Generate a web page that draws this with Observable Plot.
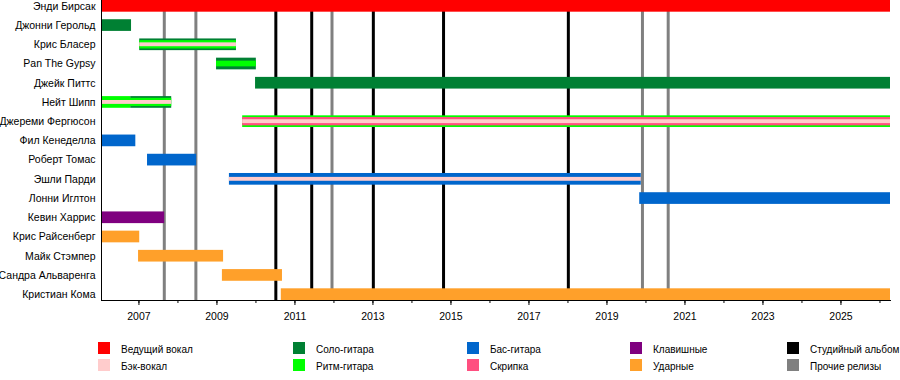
<!DOCTYPE html>
<html>
<head>
<meta charset="utf-8">
<script src="https://cdn.jsdelivr.net/npm/d3@7"></script>
<script src="https://cdn.jsdelivr.net/npm/@observablehq/plot@0.6"></script>
<style>
  html, body { margin: 0; padding: 0; background: #fff; }
  #wrap { width: 900px; font-family: "Liberation Sans", Arial, sans-serif; }
  #legend { position: relative; width: 900px; height: 50px; font-size: 10px; color: #000; }
  .item { position: absolute; height: 12px; line-height: 12px; white-space: nowrap; }
  .sw { position: absolute; left: 0; top: 0; width: 12px; height: 12px; }
  .lb { position: absolute; left: 23px; top: 2px; }
</style>
</head>
<body>
<div id="wrap"><div id="chart"></div><div id="legend"></div></div>
<script>
const START = 2006.04;
const END = 2026.27;

const members = [
  "Энди Бирсак", "Джонни Герольд", "Крис Бласер", "Pan The Gypsy", "Джейк Питтс",
  "Нейт Шипп", "Джереми Фергюсон", "Фил Кенеделла", "Роберт Томас", "Эшли Парди",
  "Лонни Иглтон", "Кевин Харрис", "Крис Райсенберг", "Майк Стэмпер",
  "Сандра Альваренга", "Кристиан Кома"
];

const roles = ["Ведущий вокал", "Бэк-вокал", "Соло-гитара", "Ритм-гитара",
               "Бас-гитара", "Скрипка", "Клавишные", "Ударные"];
const roleColors = ["#ff0000", "#ffcccc", "#008033", "#00ff00",
                    "#0066cc", "#ff4f80", "#7f007f", "#ffa02a"];

const releaseTypes = ["Студийный альбом", "Прочие релизы"];
const releaseColors = ["#000000", "#808080"];

// [member, role, start, end]
const mainBars = [
  ["Энди Бирсак", "Ведущий вокал", START, END],
  ["Джонни Герольд", "Соло-гитара", START, 2006.81],
  ["Крис Бласер", "Соло-гитара", 2007.02, 2009.50],
  ["Pan The Gypsy", "Соло-гитара", 2008.99, 2010.01],
  ["Джейк Питтс", "Соло-гитара", 2009.99, END],
  ["Нейт Шипп", "Ритм-гитара", START, 2006.79],
  ["Нейт Шипп", "Соло-гитара", 2006.79, 2007.84],
  ["Джереми Фергюсон", "Ритм-гитара", 2009.66, END],
  ["Фил Кенеделла", "Бас-гитара", START, 2006.92],
  ["Роберт Томас", "Бас-гитара", 2007.22, 2008.48],
  ["Эшли Парди", "Бас-гитара", 2009.32, 2019.88],
  ["Лонни Иглтон", "Бас-гитара", 2019.84, END],
  ["Кевин Харрис", "Клавишные", START, 2007.66],
  ["Крис Райсенберг", "Ударные", START, 2007.02],
  ["Майк Стэмпер", "Ударные", 2006.99, 2009.17],
  ["Сандра Альваренга", "Ударные", 2009.14, 2010.68],
  ["Кристиан Кома", "Ударные", 2010.65, END]
];

const midBars = [
  ["Крис Бласер", "Ритм-гитара", 2007.02, 2009.50],
  ["Нейт Шипп", "Ритм-гитара", START, 2007.84],
  ["Джереми Фергюсон", "Скрипка", 2009.66, END]
];

const narrowBars = [
  ["Pan The Gypsy", "Ритм-гитара", 2008.99, 2010.01]
];

const thinBars = [
  ["Крис Бласер", "Бэк-вокал", 2007.02, 2009.50],
  ["Нейт Шипп", "Бэк-вокал", START, 2007.84],
  ["Джереми Фергюсон", "Бэк-вокал", 2009.66, END],
  ["Эшли Парди", "Бэк-вокал", 2009.32, 2019.88]
];

const studioAlbums = [2010.51, 2011.43, 2013.01, 2014.81, 2018.01];
const otherReleases = [2007.65, 2008.46, 2011.95, 2019.91, 2020.57];

const allYears = [2007, 2008, 2009, 2010, 2011, 2012, 2013, 2014, 2015, 2016,
                  2017, 2018, 2019, 2020, 2021, 2022, 2023, 2024, 2025, 2026];
const labeledYears = [2007, 2009, 2011, 2013, 2015, 2017, 2019, 2021, 2023, 2025];

const bar = (data, inset) => Plot.barX(data, {
  x1: d => d[2], x2: d => d[3], y: d => d[0], fill: d => d[1],
  insetTop: inset, insetBottom: inset
});

const chart = Plot.plot({
  width: 900, height: 330,
  marginLeft: 101, marginRight: 10, marginTop: 0, marginBottom: 30,
  style: { fontFamily: "'Liberation Sans', Arial, sans-serif", fontSize: "10.5px", color: "#000", background: "#fff" },
  x: { domain: [START, END], label: null },
  y: { domain: members, paddingInner: 0.392, paddingOuter: 0, round: false, label: null },
  color: { type: "ordinal", domain: roles, range: roleColors },
  marks: [
    Plot.ruleX(studioAlbums, { stroke: releaseColors[0], strokeWidth: 3 }),
    Plot.ruleX(otherReleases, { stroke: releaseColors[1], strokeWidth: 3 }),
    bar(mainBars, 0),
    bar(midBars, 1.7),
    bar(narrowBars, 3),
    bar(thinBars, 3.9),
    Plot.axisY({ tickSize: 0, tickPadding: 6, fontSize: 10.5, label: null }),
    Plot.axisX({ ticks: allYears, tickSize: 3, tickFormat: () => "", label: null }),
    Plot.axisX({ ticks: labeledYears, tickSize: 5, tickPadding: 7, tickFormat: d => String(d), fontSize: 10.5, label: null }),
    Plot.ruleX([START], { stroke: "#000" }),
    Plot.frame({ anchor: "bottom", stroke: "#000" })
  ]
});
document.getElementById("chart").appendChild(chart);

// Legend
const legendItems = roles.map((r, i) => [r, roleColors[i]])
  .concat(releaseTypes.map((r, i) => [r, releaseColors[i]]));
const colLeft = [98, 293, 467, 630, 787];
const rowTop = [12, 29];
const legend = document.getElementById("legend");
legendItems.forEach(([name, color], k) => {
  const col = Math.floor(k / 2), row = k % 2;
  const it = document.createElement("div");
  it.className = "item";
  it.style.left = colLeft[col] + "px";
  it.style.top = rowTop[row] + "px";
  const sw = document.createElement("div");
  sw.className = "sw";
  sw.style.background = color;
  const lb = document.createElement("div");
  lb.className = "lb";
  lb.textContent = name;
  it.appendChild(sw); it.appendChild(lb);
  legend.appendChild(it);
});
</script>
</body>
</html>
